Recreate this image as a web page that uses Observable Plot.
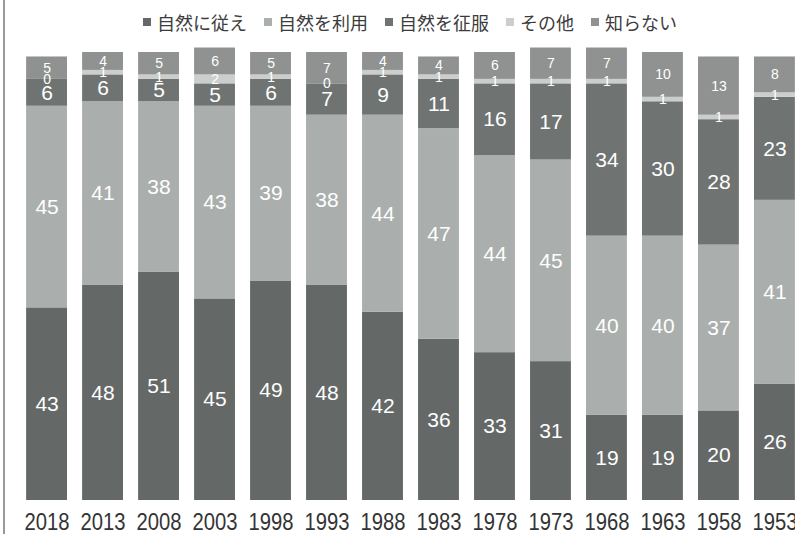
<!DOCTYPE html>
<html><head><meta charset="utf-8">
<script src="https://cdn.jsdelivr.net/npm/d3@7"></script>
<script src="https://cdn.jsdelivr.net/npm/@observablehq/plot@0.6"></script>
<style>
html,body{margin:0;padding:0;background:#fff;overflow:hidden;}
#wrap{position:relative;width:795px;height:534px;overflow:hidden;background:#fff;}
#frame{position:absolute;left:3px;top:0;width:2px;height:534px;background:#9a9a9a;}
#legend{position:absolute;left:143px;top:10px;height:24px;display:flex;gap:17px;align-items:center;}
.item{display:flex;align-items:center;font-family:"Noto Sans CJK JP",sans-serif;font-size:18px;color:#3c3c3c;line-height:22px;white-space:nowrap;}
.sw{width:8px;height:8px;margin-right:6px;display:inline-block;}
#chart{position:absolute;left:0;top:36px;width:810px;}
#chart svg{max-width:none !important;}
</style></head>
<body><div id="wrap"><div id="frame"></div><div id="legend"></div><div id="chart"></div></div>
<script>
const years = ["2018","2013","2008","2003","1998","1993","1988","1983","1978","1973","1968","1963","1958","1953"];
const seriesNames = ["自然に従え","自然を利用","自然を征服","その他","知らない"];
const follow   = [43,48,51,45,49,48,42,36,33,31,19,19,20,26];
const use      = [45,41,38,43,39,38,44,47,44,45,40,40,37,41];
const conquer  = [6,6,5,5,6,7,9,11,16,17,34,30,28,23];
const other    = [0,1,1,2,1,0,1,1,1,1,1,1,1,1];
const dontKnow = [5,4,5,6,5,7,4,4,6,7,7,10,13,8];
const colors = ["#646967","#aaaeac","#6f7472","#cbcecc","#8f9290"];

const seriesValues = [follow, use, conquer, other, dontKnow];
const data = [];
years.forEach((y, i) => {
  seriesValues.forEach((arr, s) => data.push({year: y, series: seriesNames[s], idx: s, value: arr[i]}));
});

// legend
const legend = document.getElementById("legend");
seriesNames.forEach((name, s) => {
  const item = document.createElement("div");
  item.className = "item";
  const sw = document.createElement("span");
  sw.className = "sw";
  sw.style.background = colors[s];
  item.appendChild(sw);
  item.appendChild(document.createTextNode(name));
  legend.appendChild(item);
});

const chart = Plot.plot({
  width: 810,
  height: 498,
  marginLeft: 11,
  marginRight: 0,
  marginTop: 16,
  marginBottom: 34,
  style: {fontSize: "23px", fontFamily: "'Liberation Sans',Arial,sans-serif", color: "#333", background: "transparent", maxWidth: "none"},
  x: {domain: years, padding: 0.27, round: false, label: null, tickSize: 0, tickPadding: 13},
  y: {domain: [0, 100], axis: null},
  color: {domain: seriesNames, range: colors},
  marks: [
    Plot.barY(data, {x: "year", y: "value", z: "series", fill: "series"}),
    Plot.text(data, Plot.stackY({
      x: "year", y: "value", z: "series",
      text: d => String(d.value),
      fill: "white",
      fontSize: d => d.idx < 3 ? 21 : 14,
      fontFamily: "'Liberation Sans',Arial,sans-serif"
    }))
  ]
});
// condense the year tick labels (reference uses a narrow face)
d3.select(chart)
  .selectAll('g[aria-label="x-axis tick label"] text, g[aria-label="x-axis"] .tick text')
  .attr("textLength", 45)
  .attr("lengthAdjust", "spacingAndGlyphs");
document.getElementById("chart").appendChild(chart);
</script>
</body></html>
